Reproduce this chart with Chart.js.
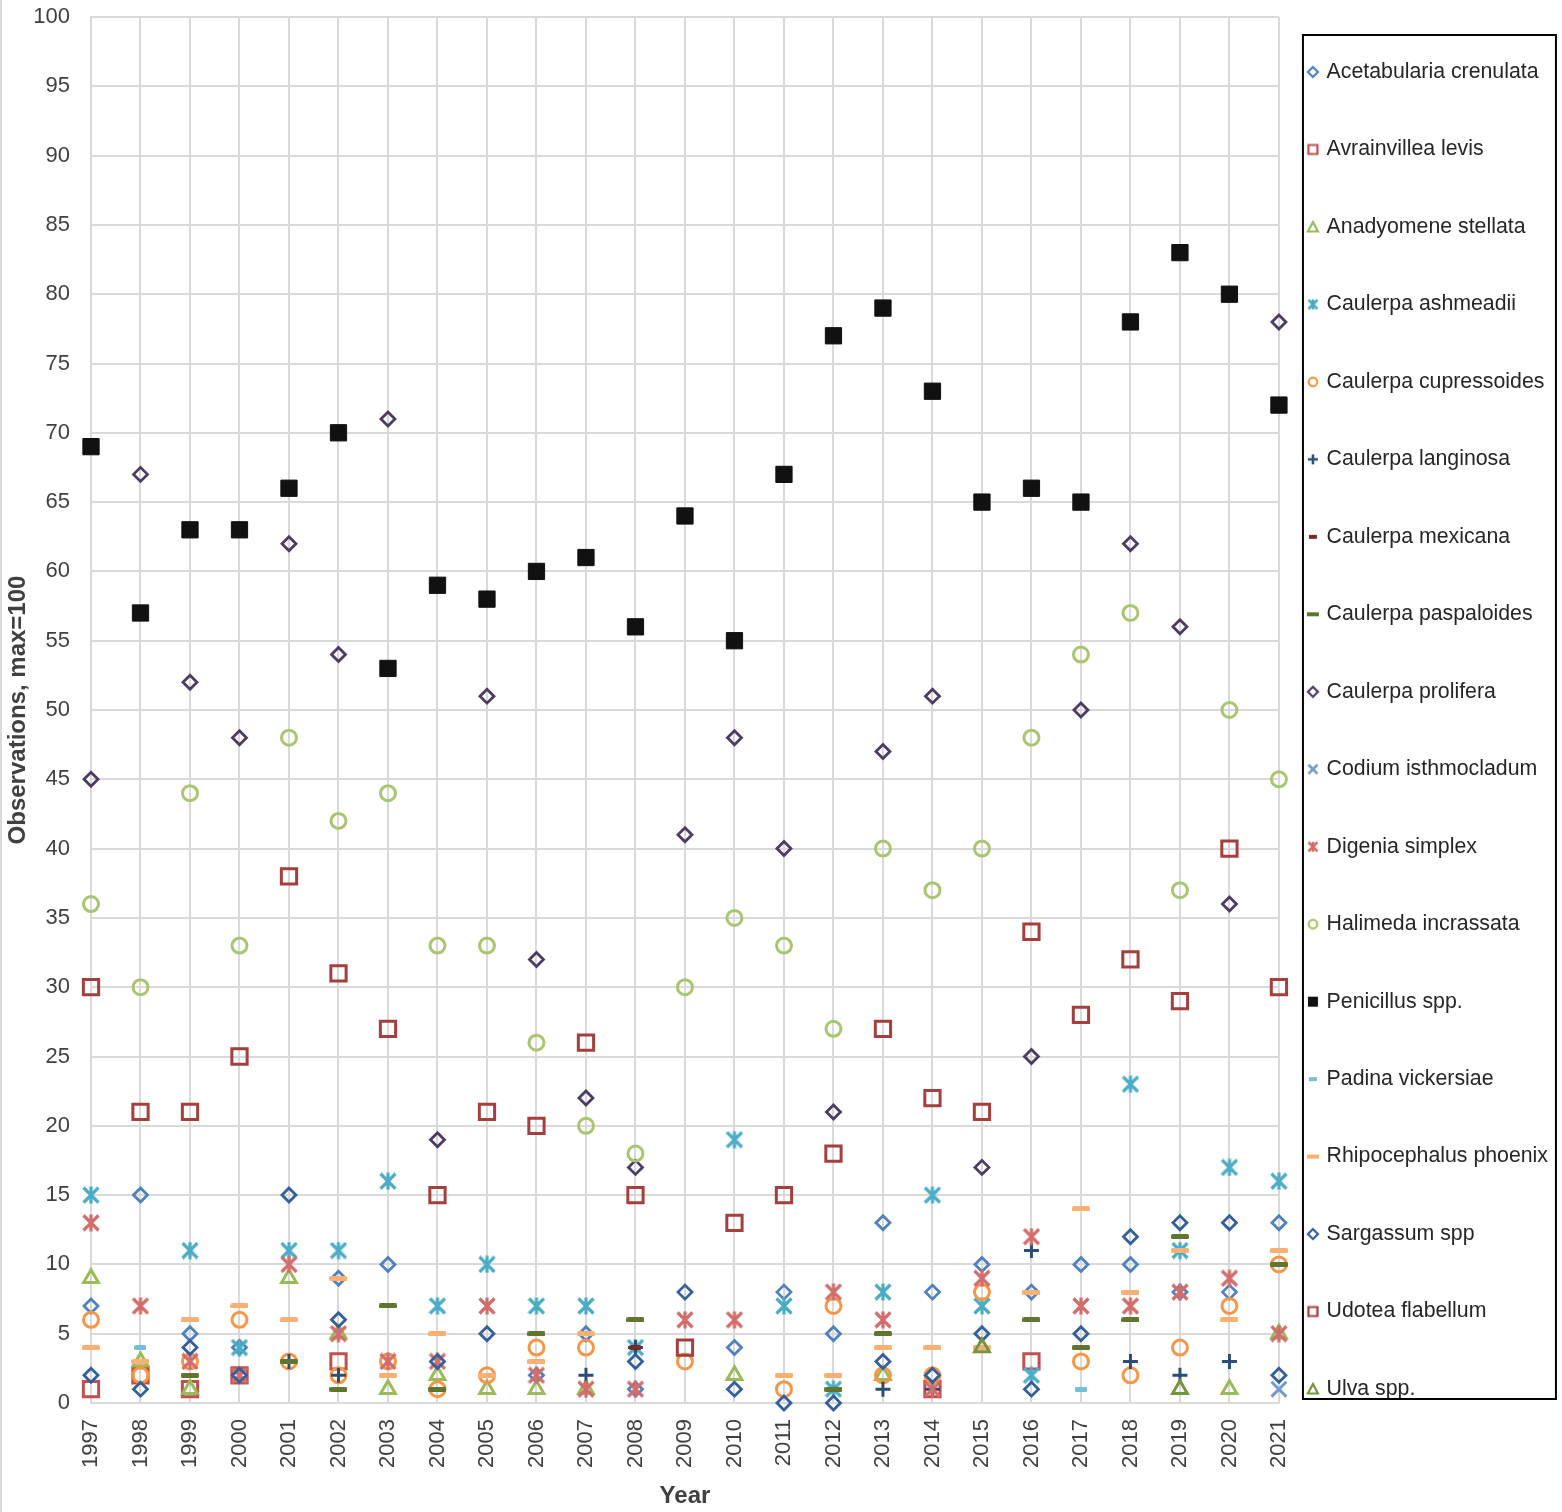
<!DOCTYPE html>
<html><head><meta charset="utf-8">
<script src="https://cdn.jsdelivr.net/npm/chart.js@4.4.1/dist/chart.umd.min.js"></script>
<style>html,body{margin:0;padding:0;background:#fff}#wrap{width:1562px;height:1512px;}</style>
</head><body><div id="wrap"><canvas id="c" width="1562" height="1512"></canvas></div>
<script>
const years = [1997,1998,1999,2000,2001,2002,2003,2004,2005,2006,2007,2008,2009,2010,2011,2012,2013,2014,2015,2016,2017,2018,2019,2020,2021];
const yTicks = {min:0, max:100, step:5};
const acetabularia = [7,15,5,4,null,9,10,null,null,2,5,1,null,4,8,5,13,8,10,8,10,10,8,8,13];
const avrainvillea = [1,2,1,2,null,3,null,null,null,null,null,null,null,null,null,null,null,1,null,3,null,null,null,null,null];
const anadyomene = [9,3,1,null,9,5,1,2,1,1,1,null,null,2,null,null,2,null,null,null,null,null,null,1,5];
const ashmeadii = [15,null,11,4,11,11,16,7,10,7,7,4,null,19,7,1,8,15,7,2,null,23,11,17,16];
const cupressoides = [6,2,3,6,3,2,3,1,2,4,4,null,3,null,1,7,2,2,8,null,3,2,4,7,10];
const langinosa = [null,null,null,null,3,2,null,null,null,null,2,4,null,null,null,null,1,1,null,11,null,3,2,3,null];
const mexicana = [null,null,null,null,null,null,null,null,null,null,null,4,null,null,null,null,null,null,null,null,null,null,null,null,null];
const paspaloides = [null,null,2,null,3,1,7,1,null,5,null,6,null,null,null,1,5,null,null,6,4,6,12,null,10];
const prolifera = [45,67,52,48,62,54,71,19,51,32,22,17,41,48,40,21,47,51,17,25,50,62,56,36,78];
const codium = [null,null,null,null,null,null,null,null,null,null,null,null,null,null,null,null,null,null,null,null,null,null,null,null,1];
const digenia = [13,7,3,2,10,5,3,3,7,2,1,1,6,6,null,8,6,1,9,12,7,7,8,9,5];
const halimeda = [36,30,44,33,48,42,44,33,33,26,20,18,30,35,33,27,40,37,40,48,54,57,37,50,45];
const penicillus = [69,57,63,63,66,70,53,59,58,60,61,56,64,55,67,77,79,73,65,66,65,78,83,80,72];
const padina = [null,4,null,null,null,null,null,null,null,null,null,null,null,null,null,null,null,null,null,null,1,null,null,null,null];
const rhipocephalus = [4,3,6,7,6,9,2,5,2,3,5,null,null,null,2,2,4,4,4,8,14,8,11,6,11];
const sargassum = [2,1,4,2,15,6,null,3,5,null,null,3,8,1,0,0,3,2,5,1,5,12,13,13,2];
const udotea = [30,21,21,25,38,31,27,15,21,20,26,15,4,13,15,18,27,22,21,34,28,32,29,40,30];
const ulva = [null,null,null,null,null,null,null,null,null,null,null,null,null,null,null,null,null,null,4,null,null,null,1,null,null];

Chart.defaults.font.family = "'Liberation Sans', Arial, sans-serif";

function mk(w,h,fn){const c=document.createElement('canvas');c.width=w;c.height=h;const g=c.getContext('2d');fn(g,w,h);return c;}
function asterisk(color,s,lw){return mk(s,s,(g)=>{g.strokeStyle=color;g.lineWidth=lw;const c=s/2,d=s/2-1.5;g.beginPath();g.moveTo(c,0.5);g.lineTo(c,s-0.5);g.moveTo(c-d,c-d);g.lineTo(c+d,c+d);g.moveTo(c+d,c-d);g.lineTo(c-d,c+d);g.stroke();});}
function dash(color,w,h){return mk(w,h,(g)=>{g.fillStyle=color;const r=Math.min(1.5,h/2);g.beginPath();g.moveTo(r,0);g.lineTo(w-r,0);g.quadraticCurveTo(w,0,w,r);g.lineTo(w,h-r);g.quadraticCurveTo(w,h,w-r,h);g.lineTo(r,h);g.quadraticCurveTo(0,h,0,h-r);g.lineTo(0,r);g.quadraticCurveTo(0,0,r,0);g.fill();});}
function lm(type,color){
  const s=14;
  return mk(s,s,(g)=>{
    const c=s/2;g.strokeStyle=color;g.fillStyle=color;g.lineWidth=2.2;g.beginPath();
    if(type==='diamond'){g.moveTo(c,c-5);g.lineTo(c+5,c);g.lineTo(c,c+5);g.lineTo(c-5,c);g.closePath();g.stroke();}
    else if(type==='square'){g.rect(c-4.5,c-4.5,9,9);g.stroke();}
    else if(type==='fsquare'){g.rect(c-5,c-5,10,10);g.fill();}
    else if(type==='triangle'){g.moveTo(c,c-5);g.lineTo(c+5,c+4.5);g.lineTo(c-5,c+4.5);g.closePath();g.stroke();}
    else if(type==='circle'){g.arc(c,c,4.3,0,Math.PI*2);g.stroke();}
    else if(type==='plus'){g.lineWidth=2.5;g.moveTo(c,c-5);g.lineTo(c,c+5);g.moveTo(c-5,c);g.lineTo(c+5,c);g.stroke();}
    else if(type==='x'){g.lineWidth=2.5;g.moveTo(c-4.5,c-4.5);g.lineTo(c+4.5,c+4.5);g.moveTo(c+4.5,c-4.5);g.lineTo(c-4.5,c+4.5);g.stroke();}
    else if(type==='ast'){g.lineWidth=2.5;g.moveTo(c,c-5);g.lineTo(c,c+5);g.moveTo(c-4.5,c-4.5);g.lineTo(c+4.5,c+4.5);g.moveTo(c+4.5,c-4.5);g.lineTo(c-4.5,c+4.5);g.stroke();}
    else if(type==='dashS'){g.fillRect(c-4,c-2,8,4);}
    else if(type==='dashL'){g.fillRect(c-6,c-2,12,4);}
  });
}

const series = [
  {label:'Acetabularia crenulata', vals:acetabularia, color:'#4f81bd', style:'rectRot', r:7, bw:2.8, lg:'diamond'},
  {label:'Avrainvillea levis', vals:avrainvillea, color:'#c0504d', style:'rect', r:10.8, bw:3, lg:'square'},
  {label:'Anadyomene stellata', vals:anadyomene, color:'#9bbb59', style:'triangle', r:8.5, bw:3, lg:'triangle'},
  {label:'Caulerpa ashmeadii', vals:ashmeadii, color:'#4bacc6', style:'ast', lg:'ast'},
  {label:'Caulerpa cupressoides', vals:cupressoides, color:'#f79646', style:'circle', r:7.5, bw:3, lg:'circle'},
  {label:'Caulerpa langinosa', vals:langinosa, color:'#2c4d75', style:'cross', r:7.5, bw:3, lg:'plus'},
  {label:'Caulerpa mexicana', vals:mexicana, color:'#772c2a', style:'dashS', lg:'dashS'},
  {label:'Caulerpa paspaloides', vals:paspaloides, color:'#5f7530', style:'dashL', lg:'dashL'},
  {label:'Caulerpa prolifera', vals:prolifera, color:'#4d3b62', style:'rectRot', r:7, bw:2.8, lg:'diamond'},
  {label:'Codium isthmocladum', vals:codium, color:'#729aca', style:'crossRot', r:10.5, bw:3, lg:'x'},
  {label:'Digenia simplex', vals:digenia, color:'#d16e6b', style:'ast', lg:'ast'},
  {label:'Halimeda incrassata', vals:halimeda, color:'#a9c56f', style:'circle', r:7.5, bw:3, lg:'circle'},
  {label:'Penicillus spp.', vals:penicillus, color:'#111111', style:'rect', r:11.5, bw:1, fill:true, lg:'fsquare'},
  {label:'Padina vickersiae', vals:padina, color:'#72c0d6', style:'dashS', lg:'dashS'},
  {label:'Rhipocephalus phoenix', vals:rhipocephalus, color:'#f9b072', style:'dashL', lg:'dashL'},
  {label:'Sargassum spp', vals:sargassum, color:'#335f9a', style:'rectRot', r:7, bw:2.8, lg:'diamond'},
  {label:'Udotea flabellum', vals:udotea, color:'#a33f3c', style:'rect', r:10.8, bw:3, lg:'square'},
  {label:'Ulva spp.', vals:ulva, color:'#77933c', style:'triangle', r:8.5, bw:3, lg:'triangle'}
];

const legendMarkers = series.map(s=>lm(s.lg,s.color));

const datasets = series.map((s,i)=>{
  let ps = s.style, radius = s.r || 8, bw = s.bw || 0;
  if (s.style==='ast') ps = asterisk(s.color,18,3.2);
  else if (s.style==='dashS') ps = dash(s.color,12,5);
  else if (s.style==='dashL') ps = dash(s.color,18,5);
  return {
    label: s.label,
    data: years.map((yr,k)=>({x:yr, y:s.vals[k]})).filter(p=>p.y!==null),
    pointStyle: ps, pointRadius: radius, pointBorderWidth: bw,
    borderColor: s.color, backgroundColor: s.fill ? s.color : 'rgba(0,0,0,0)',
    pointBackgroundColor: s.fill ? s.color : 'rgba(0,0,0,0)', pointBorderColor: s.color,
    showLine:false, clip:false, order: -i
  };
});

const legendBox = {
  id:'legendBox',
  afterDraw(chart){
    const ctx=chart.ctx;
    ctx.save(); ctx.strokeStyle='#000'; ctx.lineWidth=2;
    ctx.strokeRect(chart.chartArea.right+24, 35, 253, 1364);
    ctx.strokeStyle='#d9d9d9'; ctx.lineWidth=2;
    ctx.beginPath(); ctx.moveTo(1,0); ctx.lineTo(1,1512); ctx.stroke();
    ctx.restore();
  }
};

new Chart(document.getElementById('c'), {
  type:'scatter',
  data:{datasets},
  plugins:[legendBox],
  options:{
    responsive:false, animation:false, events:[], devicePixelRatio:1,
    layout:{padding:{top:17,right:4,bottom:0,left:0}},
    plugins:{
      tooltip:{enabled:false},
      legend:{
        position:'right', align:'start',
        title:{display:true, text:'', font:{size:10, lineHeight:'13.35px'}, padding:0},
        labels:{
          usePointStyle:true, boxWidth:6, boxHeight:10, padding:31, color:'#262626',
          font:{size:21.3, lineHeight:'46.47px'},
          sort:(a,b)=>a.datasetIndex-b.datasetIndex,
          generateLabels(chart){
            return chart.data.datasets.map((ds,i)=>({
              text:[ds.label], fillStyle:series[i].color, strokeStyle:series[i].color, lineWidth:0,
              pointStyle:legendMarkers[i], datasetIndex:i, hidden:false, fontColor:'#262626'
            }));
          }
        }
      }
    },
    scales:{
      x:{
        type:'linear', min:years[0], max:years[years.length-1],
        afterFit(s){ s.height = 109; },
        ticks:{stepSize:1, autoSkip:false, maxRotation:90, minRotation:90, padding:16, color:'#404040', font:{size:22}, callback:v=>String(v)},
        grid:{color:'#d9d9d9', lineWidth:2, drawTicks:false},
        border:{color:'#d9d9d9', width:2},
        title:{display:true, text:'Year', color:'#404040', font:{size:24, weight:'bold'}, padding:{top:0,bottom:1}}
      },
      y:{
        min:yTicks.min, max:yTicks.max,
        afterFit(s){ s.width = 91; },
        ticks:{stepSize:yTicks.step, padding:0, color:'#404040', font:{size:22}},
        grid:{color:'#d9d9d9', lineWidth:2, drawTicks:true, tickLength:21, tickColor:'rgba(0,0,0,0)'},
        border:{color:'#d9d9d9', width:2},
        title:{display:true, text:'Observations, max=100', color:'#404040', font:{size:24, weight:'bold'}, padding:{top:4,bottom:0}}
      }
    }
  }
});
</script></body></html>
